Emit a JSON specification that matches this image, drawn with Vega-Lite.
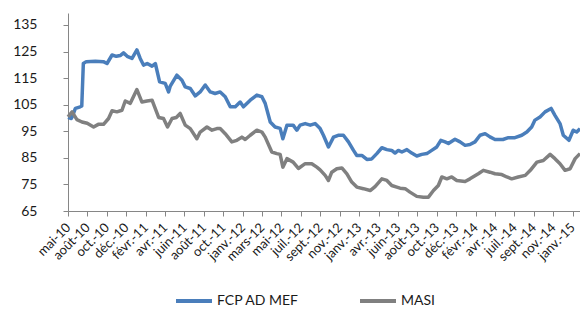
{
  "$schema": "https://vega.github.io/schema/vega-lite/v6.json",
  "width": 512,
  "height": 198,
  "autosize": {"type": "none"},
  "padding": {"left": 68, "top": 13, "right": 0, "bottom": 98},
  "background": "white",
  "config": {
    "font": "Lato",
    "view": {"stroke": null},
    "axis": {"labelFont": "Lato", "labelFontSize": 14, "labelColor": "#1a1a1a", "grid": false, "domainColor": "#868686", "tickColor": "#868686", "tickSize": 5, "domainWidth": 1}
  },
  "data": {"values": [
    {"t":0,"s":"FCP AD MEF","v":100.2},{"t":0.17,"s":"FCP AD MEF","v":99.8},{"t":0.22,"s":"FCP AD MEF","v":100.5},{"t":0.38,"s":"FCP AD MEF","v":103.6},{"t":0.63,"s":"FCP AD MEF","v":104.2},{"t":0.71,"s":"FCP AD MEF","v":104.5},{"t":0.79,"s":"FCP AD MEF","v":120.5},{"t":0.94,"s":"FCP AD MEF","v":121.2},{"t":1.41,"s":"FCP AD MEF","v":121.3},{"t":1.82,"s":"FCP AD MEF","v":121.2},{"t":2.01,"s":"FCP AD MEF","v":120.5},{"t":2.27,"s":"FCP AD MEF","v":123.7},{"t":2.49,"s":"FCP AD MEF","v":123.2},{"t":2.69,"s":"FCP AD MEF","v":123.5},{"t":2.86,"s":"FCP AD MEF","v":124.5},{"t":3.05,"s":"FCP AD MEF","v":123.2},{"t":3.30,"s":"FCP AD MEF","v":122.4},{"t":3.55,"s":"FCP AD MEF","v":125.6},{"t":3.72,"s":"FCP AD MEF","v":122.4},{"t":3.89,"s":"FCP AD MEF","v":119.9},{"t":4.08,"s":"FCP AD MEF","v":120.5},{"t":4.33,"s":"FCP AD MEF","v":119.5},{"t":4.50,"s":"FCP AD MEF","v":120.5},{"t":4.72,"s":"FCP AD MEF","v":113.6},{"t":5.01,"s":"FCP AD MEF","v":113},{"t":5.18,"s":"FCP AD MEF","v":109.8},{"t":5.27,"s":"FCP AD MEF","v":112},{"t":5.61,"s":"FCP AD MEF","v":116.1},{"t":5.87,"s":"FCP AD MEF","v":114.2},{"t":6.04,"s":"FCP AD MEF","v":111.7},{"t":6.30,"s":"FCP AD MEF","v":111.1},{"t":6.56,"s":"FCP AD MEF","v":108.3},{"t":6.81,"s":"FCP AD MEF","v":109.8},{"t":7.07,"s":"FCP AD MEF","v":112.4},{"t":7.33,"s":"FCP AD MEF","v":109.8},{"t":7.58,"s":"FCP AD MEF","v":109.2},{"t":7.84,"s":"FCP AD MEF","v":109.8},{"t":8.10,"s":"FCP AD MEF","v":108},{"t":8.36,"s":"FCP AD MEF","v":104.2},{"t":8.62,"s":"FCP AD MEF","v":104.2},{"t":8.87,"s":"FCP AD MEF","v":106},{"t":9.04,"s":"FCP AD MEF","v":104.2},{"t":9.39,"s":"FCP AD MEF","v":106.7},{"t":9.73,"s":"FCP AD MEF","v":108.6},{"t":9.99,"s":"FCP AD MEF","v":108},{"t":10.16,"s":"FCP AD MEF","v":105.5},{"t":10.42,"s":"FCP AD MEF","v":98.5},{"t":10.67,"s":"FCP AD MEF","v":96.6},{"t":10.93,"s":"FCP AD MEF","v":96.1},{"t":11.07,"s":"FCP AD MEF","v":92.2},{"t":11.28,"s":"FCP AD MEF","v":97.3},{"t":11.60,"s":"FCP AD MEF","v":97.3},{"t":11.79,"s":"FCP AD MEF","v":95.4},{"t":11.96,"s":"FCP AD MEF","v":97.3},{"t":12.22,"s":"FCP AD MEF","v":97.9},{"t":12.48,"s":"FCP AD MEF","v":97.3},{"t":12.73,"s":"FCP AD MEF","v":97.9},{"t":12.99,"s":"FCP AD MEF","v":96},{"t":13.16,"s":"FCP AD MEF","v":93.5},{"t":13.42,"s":"FCP AD MEF","v":89.1},{"t":13.68,"s":"FCP AD MEF","v":92.8},{"t":13.92,"s":"FCP AD MEF","v":93.5},{"t":14.19,"s":"FCP AD MEF","v":93.5},{"t":14.45,"s":"FCP AD MEF","v":91},{"t":14.71,"s":"FCP AD MEF","v":87.8},{"t":14.88,"s":"FCP AD MEF","v":85.9},{"t":15.14,"s":"FCP AD MEF","v":85.9},{"t":15.40,"s":"FCP AD MEF","v":84.4},{"t":15.65,"s":"FCP AD MEF","v":84.6},{"t":15.91,"s":"FCP AD MEF","v":86.6},{"t":16.17,"s":"FCP AD MEF","v":88.8},{"t":16.43,"s":"FCP AD MEF","v":88.1},{"t":16.68,"s":"FCP AD MEF","v":87.8},{"t":16.85,"s":"FCP AD MEF","v":86.8},{"t":17.02,"s":"FCP AD MEF","v":87.8},{"t":17.20,"s":"FCP AD MEF","v":87.2},{"t":17.46,"s":"FCP AD MEF","v":88.1},{"t":17.71,"s":"FCP AD MEF","v":86.8},{"t":17.97,"s":"FCP AD MEF","v":85.7},{"t":18.23,"s":"FCP AD MEF","v":86.3},{"t":18.49,"s":"FCP AD MEF","v":86.6},{"t":18.74,"s":"FCP AD MEF","v":87.8},{"t":19.00,"s":"FCP AD MEF","v":89.1},{"t":19.21,"s":"FCP AD MEF","v":91.6},{"t":19.43,"s":"FCP AD MEF","v":91},{"t":19.60,"s":"FCP AD MEF","v":90.4},{"t":19.94,"s":"FCP AD MEF","v":92},{"t":20.20,"s":"FCP AD MEF","v":91},{"t":20.46,"s":"FCP AD MEF","v":89.7},{"t":20.71,"s":"FCP AD MEF","v":90},{"t":20.97,"s":"FCP AD MEF","v":91},{"t":21.23,"s":"FCP AD MEF","v":93.5},{"t":21.49,"s":"FCP AD MEF","v":94.1},{"t":21.74,"s":"FCP AD MEF","v":92.9},{"t":22.00,"s":"FCP AD MEF","v":91.9},{"t":22.41,"s":"FCP AD MEF","v":91.9},{"t":22.69,"s":"FCP AD MEF","v":92.6},{"t":23.03,"s":"FCP AD MEF","v":92.6},{"t":23.38,"s":"FCP AD MEF","v":93.5},{"t":23.64,"s":"FCP AD MEF","v":94.7},{"t":23.89,"s":"FCP AD MEF","v":96.6},{"t":24.06,"s":"FCP AD MEF","v":99.2},{"t":24.32,"s":"FCP AD MEF","v":100.4},{"t":24.58,"s":"FCP AD MEF","v":102.3},{"t":24.89,"s":"FCP AD MEF","v":103.6},{"t":25.09,"s":"FCP AD MEF","v":101},{"t":25.35,"s":"FCP AD MEF","v":97.9},{"t":25.52,"s":"FCP AD MEF","v":93.5},{"t":25.81,"s":"FCP AD MEF","v":91.6},{"t":26.03,"s":"FCP AD MEF","v":95.4},{"t":26.21,"s":"FCP AD MEF","v":94.7},{"t":26.38,"s":"FCP AD MEF","v":96},
    {"t":0,"s":"MASI","v":100.4},{"t":0.21,"s":"MASI","v":102.3},{"t":0.46,"s":"MASI","v":99.4},{"t":0.72,"s":"MASI","v":98.5},{"t":0.99,"s":"MASI","v":98},{"t":1.32,"s":"MASI","v":96.6},{"t":1.56,"s":"MASI","v":97.6},{"t":1.83,"s":"MASI","v":97.6},{"t":2.09,"s":"MASI","v":99.8},{"t":2.27,"s":"MASI","v":102.7},{"t":2.52,"s":"MASI","v":102.3},{"t":2.78,"s":"MASI","v":102.9},{"t":2.95,"s":"MASI","v":106.4},{"t":3.21,"s":"MASI","v":105.5},{"t":3.55,"s":"MASI","v":110.7},{"t":3.81,"s":"MASI","v":106},{"t":4.07,"s":"MASI","v":106.4},{"t":4.33,"s":"MASI","v":106.7},{"t":4.67,"s":"MASI","v":100.2},{"t":4.92,"s":"MASI","v":99.8},{"t":5.13,"s":"MASI","v":96.6},{"t":5.36,"s":"MASI","v":99.8},{"t":5.58,"s":"MASI","v":100.2},{"t":5.78,"s":"MASI","v":101.7},{"t":6.04,"s":"MASI","v":97.3},{"t":6.30,"s":"MASI","v":96},{"t":6.64,"s":"MASI","v":92.2},{"t":6.81,"s":"MASI","v":94.7},{"t":7.16,"s":"MASI","v":96.6},{"t":7.42,"s":"MASI","v":95.4},{"t":7.67,"s":"MASI","v":96},{"t":7.84,"s":"MASI","v":96},{"t":8.10,"s":"MASI","v":94.1},{"t":8.44,"s":"MASI","v":91},{"t":8.70,"s":"MASI","v":91.6},{"t":8.96,"s":"MASI","v":92.8},{"t":9.13,"s":"MASI","v":91.9},{"t":9.39,"s":"MASI","v":93.5},{"t":9.73,"s":"MASI","v":95.4},{"t":9.99,"s":"MASI","v":94.7},{"t":10.16,"s":"MASI","v":92.8},{"t":10.50,"s":"MASI","v":87.2},{"t":10.76,"s":"MASI","v":86.6},{"t":10.93,"s":"MASI","v":86.3},{"t":11.07,"s":"MASI","v":81.5},{"t":11.28,"s":"MASI","v":84.7},{"t":11.60,"s":"MASI","v":83.4},{"t":11.87,"s":"MASI","v":81},{"t":12.22,"s":"MASI","v":82.8},{"t":12.56,"s":"MASI","v":82.8},{"t":12.82,"s":"MASI","v":81.5},{"t":12.99,"s":"MASI","v":80.5},{"t":13.25,"s":"MASI","v":78.4},{"t":13.42,"s":"MASI","v":76.5},{"t":13.59,"s":"MASI","v":79.6},{"t":13.85,"s":"MASI","v":80.9},{"t":14.11,"s":"MASI","v":81.2},{"t":14.37,"s":"MASI","v":79},{"t":14.62,"s":"MASI","v":75.9},{"t":14.88,"s":"MASI","v":74},{"t":15.22,"s":"MASI","v":73.4},{"t":15.57,"s":"MASI","v":72.7},{"t":15.82,"s":"MASI","v":74.2},{"t":16.17,"s":"MASI","v":77.1},{"t":16.43,"s":"MASI","v":76.5},{"t":16.68,"s":"MASI","v":74.6},{"t":16.94,"s":"MASI","v":74},{"t":17.11,"s":"MASI","v":73.6},{"t":17.37,"s":"MASI","v":73.4},{"t":17.62,"s":"MASI","v":72.1},{"t":17.97,"s":"MASI","v":70.5},{"t":18.31,"s":"MASI","v":70.2},{"t":18.57,"s":"MASI","v":70.2},{"t":18.83,"s":"MASI","v":72.7},{"t":19.08,"s":"MASI","v":74.6},{"t":19.26,"s":"MASI","v":77.8},{"t":19.52,"s":"MASI","v":77.1},{"t":19.77,"s":"MASI","v":77.8},{"t":20.03,"s":"MASI","v":76.5},{"t":20.46,"s":"MASI","v":76.1},{"t":20.71,"s":"MASI","v":77.1},{"t":21.14,"s":"MASI","v":79},{"t":21.40,"s":"MASI","v":80.3},{"t":21.74,"s":"MASI","v":79.6},{"t":22.00,"s":"MASI","v":79},{"t":22.35,"s":"MASI","v":78.7},{"t":22.61,"s":"MASI","v":77.8},{"t":22.86,"s":"MASI","v":77.1},{"t":23.20,"s":"MASI","v":77.8},{"t":23.56,"s":"MASI","v":78.4},{"t":23.82,"s":"MASI","v":80.3},{"t":24.16,"s":"MASI","v":83.4},{"t":24.49,"s":"MASI","v":84},{"t":24.84,"s":"MASI","v":86.3},{"t":25.09,"s":"MASI","v":84.7},{"t":25.35,"s":"MASI","v":82.8},{"t":25.61,"s":"MASI","v":80.3},{"t":25.87,"s":"MASI","v":80.9},{"t":26.13,"s":"MASI","v":84.7},{"t":26.38,"s":"MASI","v":86.6}
  ]},
  "mark": {"type": "line", "strokeWidth": 3.5, "interpolate": "linear", "strokeJoin": "round"},
  "encoding": {
    "x": {
      "field": "t", "type": "quantitative",
      "scale": {"domain": [0, 26.38], "nice": false, "zero": false},
      "axis": {
        "title": null,
        "values": [0,1,2,3,4,5,6,7,8,9,10,11,12,13,14,15,16,17,18,19,20,21,22,23,24,25,26],
        "labelExpr": "['mai-10','août-10','oct.-10','déc.-10','févr.-11','avr.-11','juin-11','août-11','oct.-11','janv.-12','mars-12','mai-12','juil.-12','sept.-12','nov.-12','janv.-13','avr.-13','juin-13','août-13','oct.-13','déc.-13','févr.-14','avr.-14','juil.-14','sept.-14','nov.-14','janv.-15'][datum.value]",
        "labelAngle": -45,
        "labelAlign": "right",
        "labelBaseline": "middle",
        "labelFontSize": 13,
        "labelPadding": 9,
        "labelOverlap": false,
        "labelFlush": false,
        "labelBound": false
      }
    },
    "y": {
      "field": "v", "type": "quantitative",
      "scale": {"domain": [65, 139.5], "nice": false, "zero": false},
      "axis": {"title": null, "values": [65,75,85,95,105,115,125,135], "labelPadding": 26}
    },
    "color": {
      "field": "s", "type": "nominal",
      "scale": {"domain": ["FCP AD MEF", "MASI"], "range": ["#4a7ebb", "#808080"]},
      "legend": {
        "title": null, "orient": "none", "direction": "horizontal",
        "legendX": 118, "legendY": 280,
        "symbolType": "M-3,0H3", "symbolSize": 144, "symbolStrokeWidth": 4,
        "labelFont": "Lato", "labelFontSize": 14, "labelColor": "#1a1a1a",
        "labelOffset": 15, "columnPadding": 53
      }
    }
  }
}
